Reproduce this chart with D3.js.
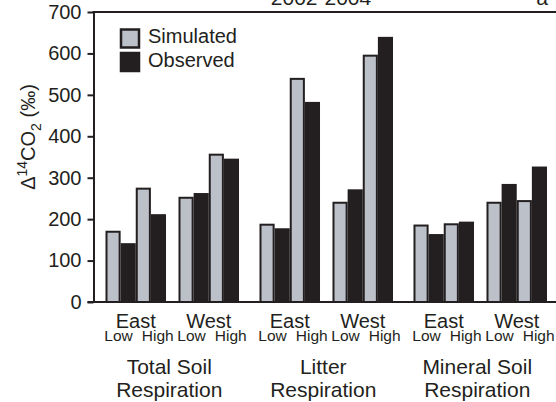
<!DOCTYPE html>
<html>
<head>
<meta charset="utf-8">
<script src="https://cdn.jsdelivr.net/npm/d3@7"></script>
<style>
  html, body { margin: 0; padding: 0; background: #fff; }
  svg { display: block; font-family: "Liberation Sans", Arial, sans-serif; }
</style>
</head>
<body>
<svg id="chart" width="556" height="402"></svg>
<script>
// Respiration groups (two-line labels), sites and stand levels
const categories = ["Total Soil Respiration", "Litter Respiration", "Mineral Soil Respiration"];
const categoryLines = [["Total Soil", "Respiration"], ["Litter", "Respiration"], ["Mineral Soil", "Respiration"]];
const sites = ["East", "West"];
const levels = ["Low", "High"];
const seriesNames = ["Simulated", "Observed"];

// Δ14CO2 (‰), ordered category → site → level
const simulated = [172, 276, 254, 358, 189, 541, 242, 597, 187, 190, 242, 246];
const observed  = [142, 212, 263, 346, 178, 483, 272, 640, 164, 194, 285, 327];

const yTicks = [0, 100, 200, 300, 400, 500, 600, 700];
const titleText = "2002-2004";
const panelLetter = "a";

const INK = "#231f20";
const GRAY = "#bcc0c8";

const svg = d3.select("#chart");

const plotLeft = 93.5, plotRight = 556, plotTop = 12, plotBottom = 302;

const y = d3.scaleLinear().domain([0, 700]).range([plotBottom, plotTop]);

const xCat = d3.scaleBand().domain(categories).range([105.5, 547]).paddingInner(0.133).paddingOuter(0);
const xSite = d3.scaleBand().domain(sites).range([0, xCat.bandwidth()]).paddingInner(0.171).paddingOuter(0);
const barKeys = [];
levels.forEach(l => seriesNames.forEach(s => barKeys.push(l + "|" + s)));
const xBar = d3.scaleBand().domain(barKeys).range([0, xSite.bandwidth()]).padding(0);

// flatten into bar records
const bars = [];
let idx = 0;
categories.forEach(c => sites.forEach(s => levels.forEach(l => {
  bars.push({ cat: c, site: s, level: l, series: "Simulated", value: simulated[idx] });
  bars.push({ cat: c, site: s, level: l, series: "Observed", value: observed[idx] });
  idx++;
})));

// bars
const barG = svg.append("g");
barG.selectAll("rect.obs").data(bars.filter(d => d.series === "Observed")).join("rect")
  .attr("x", d => xCat(d.cat) + xSite(d.site) + xBar(d.level + "|" + d.series))
  .attr("y", d => y(d.value))
  .attr("width", xBar.bandwidth())
  .attr("height", d => y(0) - y(d.value))
  .attr("fill", INK);
barG.selectAll("rect.sim").data(bars.filter(d => d.series === "Simulated")).join("rect")
  .attr("x", d => xCat(d.cat) + xSite(d.site) + xBar(d.level + "|" + d.series) + 1)
  .attr("y", d => y(d.value) + 1)
  .attr("width", xBar.bandwidth() - 2)
  .attr("height", d => y(0) - y(d.value) - 1)
  .attr("fill", GRAY)
  .attr("stroke", INK)
  .attr("stroke-width", 2);

// y axis
const yAxis = svg.append("g")
  .attr("transform", `translate(${plotLeft},0)`)
  .call(d3.axisLeft(y).tickValues(yTicks).tickSize(6).tickSizeOuter(0).tickPadding(6));
yAxis.select(".domain").attr("stroke", INK).attr("stroke-width", 2);
yAxis.selectAll(".tick line").attr("stroke", INK).attr("stroke-width", 2);
yAxis.selectAll(".tick text")
  .attr("font-size", 20).attr("fill", INK)
  .attr("font-family", "Liberation Sans, Arial, sans-serif");

// frame top and baseline
svg.append("line").attr("x1", plotLeft - 1).attr("x2", plotRight).attr("y1", y(700)).attr("y2", y(700))
  .attr("stroke", INK).attr("stroke-width", 2);
svg.append("line").attr("x1", plotLeft - 6).attr("x2", plotRight).attr("y1", y(0)).attr("y2", y(0))
  .attr("stroke", INK).attr("stroke-width", 2);

// y axis title
const yTitle = svg.append("text")
  .attr("transform", `translate(35,137) rotate(-90)`)
  .attr("text-anchor", "middle")
  .attr("font-size", 20)
  .attr("fill", INK);
yTitle.append("tspan").text("Δ");
yTitle.append("tspan").attr("font-size", 14).attr("dy", -8).text("14");
yTitle.append("tspan").attr("dy", 8).text("CO");
yTitle.append("tspan").attr("font-size", 14).attr("dy", 6).text("2");
yTitle.append("tspan").attr("dy", -6).text(" (‰)");

// title and panel letter (top edge)
svg.append("text").attr("x", 321).attr("y", 5).attr("text-anchor", "middle")
  .attr("font-size", 21).attr("fill", INK).text(titleText);
svg.append("text").attr("x", 542).attr("y", 5).attr("text-anchor", "middle")
  .attr("font-size", 21).attr("fill", INK).text(panelLetter);

// x labels
const siteG = svg.append("g").attr("fill", INK);
categories.forEach((c, ci) => {
  sites.forEach(s => {
    const x0 = xCat(c) + xSite(s);
    const cx = x0 + xSite.bandwidth() / 2;
    siteG.append("text").attr("x", cx).attr("y", 327.5).attr("text-anchor", "middle")
      .attr("font-size", 20).text(s);
    siteG.append("text").attr("x", cx - 3).attr("y", 340.5).attr("text-anchor", "end")
      .attr("font-size", 15.5).text(levels[0]);
    siteG.append("text").attr("x", cx + 6).attr("y", 340.5).attr("text-anchor", "start")
      .attr("font-size", 15.5).text(levels[1]);
  });
  const ccx = xCat(c) + xCat.bandwidth() / 2;
  categoryLines[ci].forEach((line, li) => {
    siteG.append("text").attr("x", ccx - 3).attr("y", 373.5 + li * 23.5).attr("text-anchor", "middle")
      .attr("font-size", 21).text(line);
  });
});

// legend
const legend = svg.append("g");
const legendColors = [GRAY, INK];
seriesNames.forEach((name, i) => {
  const ly = 28.5 + i * 23.5;
  legend.append("rect").attr("x", 121).attr("y", ly + 1).attr("width", 18).attr("height", 18)
    .attr("fill", legendColors[i]).attr("stroke", INK).attr("stroke-width", 2.5);
  legend.append("text").attr("x", 148).attr("y", ly + 14.5).attr("font-size", 20).attr("fill", INK).text(name);
});
</script>
</body>
</html>
